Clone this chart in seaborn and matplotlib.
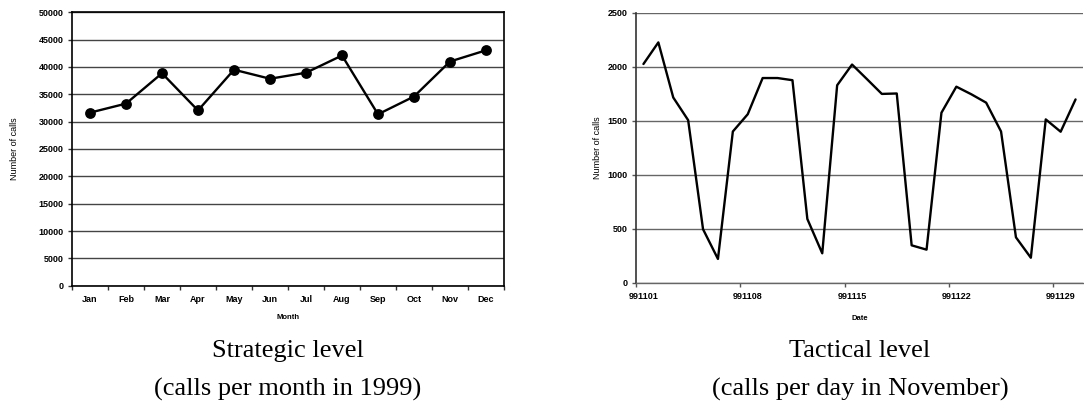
import matplotlib
matplotlib.use("Agg")
import matplotlib.pyplot as plt
import seaborn as sns
import pandas as pd

# Monthly call volume, 1999
months = ["Jan", "Feb", "Mar", "Apr", "May", "Jun",
          "Jul", "Aug", "Sep", "Oct", "Nov", "Dec"]
monthly_calls = [31650, 33300, 38850, 32050, 39500, 37850,
                 38950, 42100, 31350, 34600, 41000, 43050]

# Daily call volume, November 1999
days = list(range(1, 31))
daily_calls = [2025, 2225, 1715, 1505, 495, 220, 1400, 1560, 1895, 1895,
               1875, 590, 272, 1828, 2020, 1885, 1748, 1752, 346, 306,
               1574, 1815, 1745, 1667, 1400, 420, 231, 1512, 1398, 1697]
day_labels = ["991101", "991108", "991115", "991122", "991129"]
day_label_pos = [1, 8, 15, 22, 29]

sns.set_theme(style="white")
plt.rcParams["font.family"] = ["Liberation Sans", "DejaVu Sans"]
plt.rcParams["text.color"] = "black"
plt.rcParams["axes.labelcolor"] = "black"
plt.rcParams["xtick.color"] = "black"
plt.rcParams["ytick.color"] = "black"

W, H = 1084, 409
fig = plt.figure(figsize=(W / 100, H / 100), dpi=100)


def px_axes(left, right, top, bottom):
    return fig.add_axes([left / W, (H - bottom) / H,
                         (right - left) / W, (bottom - top) / H])


tick_font = dict(fontsize=6.5, fontweight="bold", family="Liberation Sans")

# ---- Strategic level: calls per month ----
ax1 = px_axes(72, 504, 12.3, 285.7)
df_m = pd.DataFrame({"Month": months, "Calls": monthly_calls})
sns.pointplot(data=df_m, x="Month", y="Calls", color="black",
              markers="o", linestyles="-", ax=ax1,
              markersize=6.5, linewidth=1.7)
ax1.set_xlim(-0.5, 11.5)
ax1.set_ylim(0, 50000)
ax1.set_yticks(range(0, 50001, 5000))
ax1.set_yticklabels([str(v) for v in range(0, 50001, 5000)], **tick_font)
ax1.set_xticks(range(12))
ax1.set_xticklabels(months, **tick_font)
ax1.set_xticks([i - 0.5 for i in range(13)], minor=True)
ax1.tick_params(axis="x", which="major", length=0, pad=7)
ax1.tick_params(axis="x", which="minor", length=3, width=1, color="#333333",
                direction="out", bottom=True)
ax1.tick_params(axis="y", length=3, width=1, color="#333333",
                direction="out", left=True, pad=3)
ax1.grid(axis="y", color="#444444", linewidth=1.0)
ax1.set_axisbelow(True)
for s in ax1.spines.values():
    s.set_visible(True)
    s.set_color("black")
    s.set_linewidth(1.2)
ax1.set_xlabel("Month", fontsize=5.5, fontweight="bold", labelpad=7)
ax1.set_ylabel("Number of calls", fontsize=6.5, labelpad=14)

# ---- Tactical level: calls per day ----
ax2 = px_axes(636, 1083, 12.7, 282.7)
df_d = pd.DataFrame({"Day": days, "Calls": daily_calls})
sns.lineplot(data=df_d, x="Day", y="Calls", color="black",
             linewidth=1.7, ax=ax2)
ax2.set_xlim(0.5, 30.5)
ax2.set_ylim(0, 2500)
ax2.set_yticks(range(0, 2501, 500))
ax2.set_yticklabels([str(v) for v in range(0, 2501, 500)], **tick_font)
ax2.set_xticks(day_label_pos)
ax2.set_xticklabels(day_labels, **tick_font)
ax2.set_xticks([p - 0.5 for p in day_label_pos], minor=True)
ax2.tick_params(axis="x", which="major", length=0, pad=7)
ax2.tick_params(axis="x", which="minor", length=3, width=1, color="#555555",
                direction="out", bottom=True)
ax2.tick_params(axis="y", length=3, width=1, color="#555555",
                direction="out", left=True, pad=3)
ax2.grid(axis="y", color="#666666", linewidth=1.0)
ax2.set_axisbelow(True)
ax2.spines["top"].set_visible(False)
ax2.spines["right"].set_visible(False)
ax2.spines["left"].set_color("#333333")
ax2.spines["left"].set_linewidth(1.2)
ax2.spines["bottom"].set_color("#666666")
ax2.spines["bottom"].set_linewidth(1.0)
ax2.set_xlabel("Date", fontsize=5.5, fontweight="bold", labelpad=10)
ax2.set_ylabel("Number of calls", fontsize=6.5, labelpad=4)

# ---- Captions below each panel ----
cap = dict(ha="center", va="center", fontsize=19, color="black",
           family=["Liberation Serif", "DejaVu Serif"])
fig.text(288 / W, 1 - 351 / H, "Strategic level", **cap)
fig.text(288 / W, 1 - 389 / H, "(calls per month in 1999)", **cap)
fig.text(860 / W, 1 - 351 / H, "Tactical level", **cap)
fig.text(860 / W, 1 - 389 / H, "(calls per day in November)", **cap)

fig.savefig("out.png", dpi=100)
